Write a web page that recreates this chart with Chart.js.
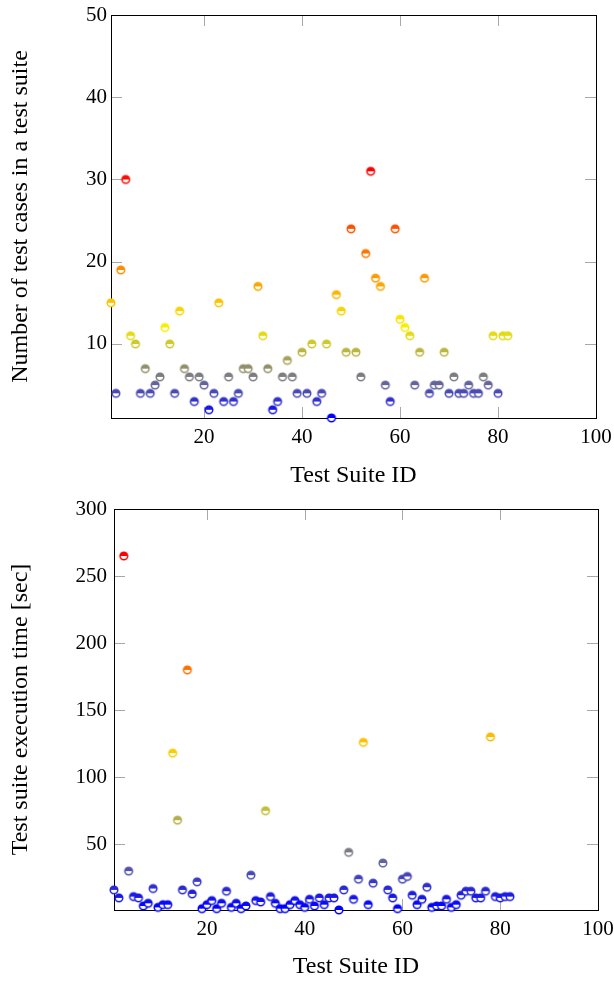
<!DOCTYPE html>
<html><head><meta charset="utf-8">
<script src="https://cdn.jsdelivr.net/npm/chart.js@4/dist/chart.umd.min.js"></script>
<style>
html,body{margin:0;padding:0;background:#fff;}
canvas{position:absolute;left:0;}
#c1{top:0;}
#c2{top:490px;}
</style></head><body>
<canvas id="c1" width="614" height="490"></canvas>
<canvas id="c2" width="614" height="491"></canvas>
<script>
// ---- data ----
const suiteIds = [];
for (let i = 1; i <= 82; i++) suiteIds.push(i);
const testCaseCounts = [15,4,19,30,11,10,4,7,4,5, 6,12,10,4,14,7,6,3,6,5,
  2,4,15,3,6,3,4,7,7,6, 17,11,7,2,3,6,8,6,4,9, 4,10,3,4,10,1,16,14,9,24,
  9,6,21,31,18,17,5,3,24,13, 12,11,5,9,18,4,5,5,9,4, 6,4,4,5,4,4,6,5,11,4, 11,11];
const execTimes = [16,10,265,30,11,10,4,6,17,3, 5,5,118,68,16,180,13,22,2,5,
  8,2,6,15,3,6,2,4,27,8, 7,75,11,6,2,2,5,8,5,3, 9,4,10,5,10,10,1,16,44,9,
  24,126,5,21,null,36,16,10,2,24, 26,12,5,9,18,3,4,4,9,3, 5,12,15,15,10,10,15,130,11,10, 11,11];
const xTickLabels = [20,40,60,80,100];
const caseTickLabels = [10,20,30,40,50];
const timeTickLabels = [50,100,150,200,250,300];

// ---- styling helpers ----
const FONT = "'Liberation Serif', 'Times New Roman', serif";
const stops = [
  [0.00, [0,0,255]],
  [0.17, [128,128,128]],
  [0.37, [250,240,0]],
  [0.55, [250,160,0]],
  [1.00, [255,0,0]]
];
function cmap(t){
  t = Math.max(0, Math.min(1, t));
  for (let i = 1; i < stops.length; i++) {
    if (t <= stops[i][0]) {
      const [t0,c0] = stops[i-1], [t1,c1] = stops[i];
      const f = (t - t0) / (t1 - t0);
      return 'rgb(' + c0.map((v,k)=>Math.round(v + (c1[k]-v)*f)).join(',') + ')';
    }
  }
  return 'rgb(255,0,0)';
}
const markerCache = {};
function marker(col){
  if (markerCache[col]) return markerCache[col];
  const c = document.createElement('canvas');
  c.width = 12; c.height = 12;
  const g = c.getContext('2d');
  const cx = 6, cy = 6, r = 3.8;
  g.fillStyle = '#fff'; g.beginPath(); g.arc(cx,cy,r,0,2*Math.PI); g.fill();
  g.fillStyle = col; g.beginPath(); g.arc(cx,cy,r,Math.PI,2*Math.PI); g.closePath(); g.fill();
  g.strokeStyle = col; g.lineWidth = 1.5; g.beginPath(); g.arc(cx,cy,r,0,2*Math.PI); g.stroke();
  markerCache[col] = c;
  return c;
}

const framePlugin = {
  id: 'frame',
  beforeDatasetsDraw(chart){
    const {ctx, chartArea: a, scales: {x, y}} = chart;
    const L = 11;
    ctx.save();
    ctx.strokeStyle = '#a8a8a8';
    ctx.lineWidth = 1;
    ctx.beginPath();
    x.ticks.forEach(t => {
      const px = Math.round(x.getPixelForValue(t.value)) + 0.5;
      ctx.moveTo(px, a.bottom); ctx.lineTo(px, a.bottom - L);
      ctx.moveTo(px, a.top); ctx.lineTo(px, a.top + L);
    });
    y.ticks.forEach(t => {
      const py = Math.round(y.getPixelForValue(t.value)) + 0.5;
      ctx.moveTo(a.left, py); ctx.lineTo(a.left + L, py);
      ctx.moveTo(a.right, py); ctx.lineTo(a.right - L, py);
    });
    ctx.stroke();
    ctx.strokeStyle = '#000';
    ctx.lineWidth = 1;
    const l = Math.round(a.left) + 0.5, t0 = Math.round(a.top) + 0.5;
    const r = Math.round(a.right) + 0.5, b = Math.round(a.bottom) + 0.5;
    ctx.strokeRect(l, t0, r - l, b - t0);
    ctx.restore();
  }
};

function makeChart(id, values, yLabels, yTitle, yMin, yMax, geo){
  const pts = [];
  suiteIds.forEach((s,i) => { if (values[i] !== null) pts.push({x: s, y: values[i]}); });
  const vals = values.filter(v => v !== null);
  const vmin = Math.min(...vals), vmax = Math.max(...vals);
  const colors = pts.map(p => cmap((p.y - vmin) / (vmax - vmin)));
  return new Chart(document.getElementById(id), {
    type: 'scatter',
    data: { datasets: [{
      data: pts,
      pointStyle: ctx => marker(colors[ctx.dataIndex]),
      pointRadius: 5,
      clip: false
    }]},
    plugins: [framePlugin],
    options: {
      responsive: false,
      animation: false,
      devicePixelRatio: 1,
      events: [],
      layout: { padding: { top: geo.top, right: geo.right, left: 0, bottom: 0 } },
      plugins: { legend: {display: false}, tooltip: {enabled: false} },
      scales: {
        x: {
          type: 'linear', min: 1, max: 100,
          grid: { display: false, drawTicks: false },
          border: { display: false },
          afterBuildTicks: s => { s.ticks = xTickLabels.map(v => ({value: v})); },
          ticks: {
            maxRotation: 0, autoSkip: false,
            color: '#000', font: { family: FONT, size: 21 }, padding: geo.xPad,
            callback: v => String(v)
          },
          title: { display: true, text: 'Test Suite ID', color: '#000',
            font: { family: FONT, size: 24 }, padding: { top: 0, bottom: geo.xTitlePad } },
          afterFit: s => { s.height = geo.xHeight; s.paddingLeft = 0; s.paddingRight = 0; }
        },
        y: {
          type: 'linear', min: yMin, max: yMax,
          grid: { display: false, drawTicks: false },
          border: { display: false },
          afterBuildTicks: s => { s.ticks = yLabels.map(v => ({value: v})); },
          ticks: {
            autoSkip: false,
            color: '#000', font: { family: FONT, size: 21 }, padding: geo.yPad,
            callback: v => String(v)
          },
          title: { display: true, text: yTitle, color: '#000',
            font: { family: FONT, size: 24 }, padding: { top: geo.yTitlePad, bottom: 0 } },
          afterFit: s => { s.width = geo.yWidth; s.paddingTop = 0; s.paddingBottom = 0; }
        }
      }
    }
  });
}

makeChart('c1', testCaseCounts, caseTickLabels, 'Number of test cases in a test suite', 1, 50,
  { top: 15, right: 18, xPad: 7, xTitlePad: 0, xHeight: 72, yPad: 4, yTitlePad: 6, yWidth: 111 });
makeChart('c2', execTimes, timeTickLabels, 'Test suite execution time [sec]', 1, 300,
  { top: 19, right: 16, xPad: 7, xTitlePad: 0, xHeight: 71, yPad: 7, yTitlePad: 6, yWidth: 114 });
</script>
</body></html>
